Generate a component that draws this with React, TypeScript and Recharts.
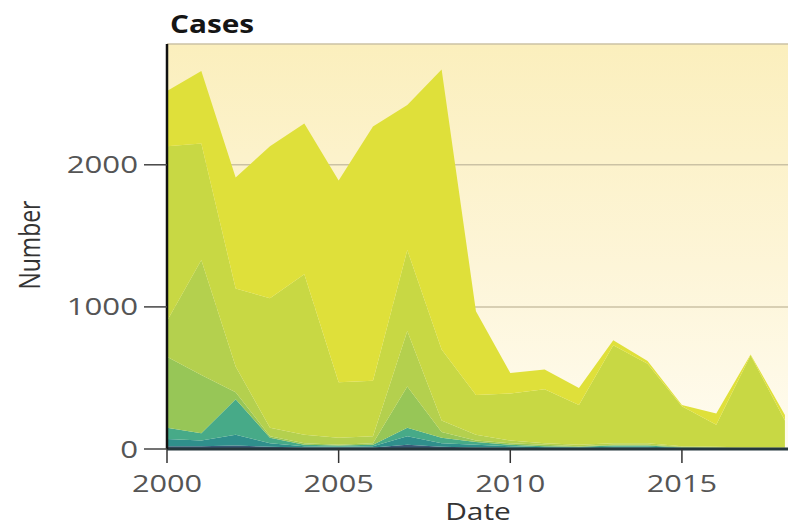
import React from "react";
import { AreaChart, Area, XAxis, YAxis, CartesianGrid } from "recharts";

const years = [2000, 2001, 2002, 2003, 2004, 2005, 2006, 2007, 2008, 2009, 2010, 2011, 2012, 2013, 2014, 2015, 2016, 2017, 2018];
const layer1 = [20, 20, 25, 15, 10, 10, 10, 30, 15, 10, 8, 6, 5, 8, 8, 4, 3, 2, 2];
const layer2 = [50, 40, 75, 25, 10, 5, 10, 60, 25, 20, 12, 6, 5, 7, 7, 4, 2, 2, 2];
const layer3 = [80, 50, 250, 40, 10, 10, 10, 60, 40, 20, 10, 8, 5, 10, 10, 2, 3, 1, 1];
const layer4 = [500, 410, 50, 10, 10, 5, 10, 290, 40, 10, 10, 10, 5, 5, 5, 5, 2, 3, 3];
const layer5 = [250, 810, 180, 60, 60, 50, 50, 390, 80, 40, 20, 10, 10, 10, 10, 5, 5, 2, 2];
const layer6 = [1230, 820, 550, 910, 1130, 390, 390, 570, 500, 280, 330, 380, 280, 690, 560, 280, 155, 650, 190];
const layer7 = [390, 510, 780, 1070, 1060, 1420, 1790, 1020, 1970, 590, 145, 140, 120, 35, 20, 10, 80, 5, 40];

const layerKeys = ["l1", "l2", "l3", "l4", "l5", "l6", "l7"];
const layerValues = [layer1, layer2, layer3, layer4, layer5, layer6, layer7];
const layerColors = ["#3a5a78", "#2f8f8c", "#47aa88", "#97c657", "#b4d04e", "#c8d844", "#dfe03a"];

const xTicks = [2000, 2005, 2010, 2015];
const yTicks = [0, 1000, 2000];

const data = years.map((year, i) => {
  const row: Record<string, number> = { year };
  layerKeys.forEach((k, j) => {
    row[k] = layerValues[j][i];
  });
  return row;
});

const FONT = "'Open Sans', sans-serif";

const XTick = (props: any) => {
  const { x, y, payload } = props;
  return (
    <text
      transform={`translate(${x},${y + 27}) scale(1.28,1)`}
      x={0}
      y={0}
      textAnchor="middle"
      fontFamily={FONT}
      fontSize={24}
      fill="#555"
    >
      {payload.value}
    </text>
  );
};

const YTick = (props: any) => {
  const { x, y, payload } = props;
  return (
    <text
      transform={`translate(${x - 4},${y + 8.5}) scale(1.3,1)`}
      x={0}
      y={0}
      textAnchor="end"
      fontFamily={FONT}
      fontSize={24}
      fill="#555"
    >
      {payload.value}
    </text>
  );
};

export default function App() {
  return (
    <div style={{ position: "absolute", left: 0, top: 0, width: 788, height: 529, background: "#fff" }}>
      <AreaChart
        width={788}
        height={529}
        data={data}
        margin={{ top: 44, right: 0, bottom: 0, left: 0 }}
      >
        <defs>
          <linearGradient id="bgGrad" x1="0" y1="0" x2="0" y2="1">
            <stop offset="0%" stopColor="#fbefbd" />
            <stop offset="55%" stopColor="#fdf5d8" />
            <stop offset="100%" stopColor="#fffcf0" />
          </linearGradient>
        </defs>
        <CartesianGrid
          vertical={false}
          fill="url(#bgGrad)"
          fillOpacity={1}
          stroke="#cbc2a4"
          strokeWidth={1.5}
        />
        <XAxis
          dataKey="year"
          type="number"
          domain={[2000, 2018.09]}
          ticks={xTicks}
          height={80}
          tickSize={14}
          axisLine={{ stroke: "#25373d", strokeWidth: 3 }}
          tickLine={{ stroke: "#333", strokeWidth: 1.5 }}
          tick={(p: any) => <XTick {...p} />}
          allowDataOverflow
        />
        <YAxis
          type="number"
          domain={[0, 2850]}
          ticks={yTicks}
          width={167}
          tickSize={23}
          axisLine={{ stroke: "#111", strokeWidth: 2.5 }}
          tickLine={{ stroke: "#444", strokeWidth: 1.5 }}
          tick={(p: any) => <YTick {...p} />}
          allowDataOverflow
        />
        {layerKeys.map((k, j) => (
          <Area
            key={k}
            dataKey={k}
            type="linear"
            stackId="1"
            stroke="none"
            fill={layerColors[j]}
            fillOpacity={1}
            isAnimationActive={false}
          />
        ))}
        <text
          transform="translate(170,33) scale(1.19,1)"
          x={0}
          y={0}
          fontFamily={FONT}
          fontWeight={700}
          fontSize={25}
          fill="#151515"
        >
          Cases
        </text>
        <text
          transform="translate(40,245) rotate(-90) scale(1,1.3)"
          x={0}
          y={0}
          textAnchor="middle"
          fontFamily={FONT}
          fontSize={23}
          fill="#333"
        >
          Number
        </text>
        <text
          transform="translate(478,520) scale(1.3,1)"
          x={0}
          y={0}
          textAnchor="middle"
          fontFamily={FONT}
          fontSize={23}
          fill="#333"
        >
          Date
        </text>
      </AreaChart>
    </div>
  );
}
